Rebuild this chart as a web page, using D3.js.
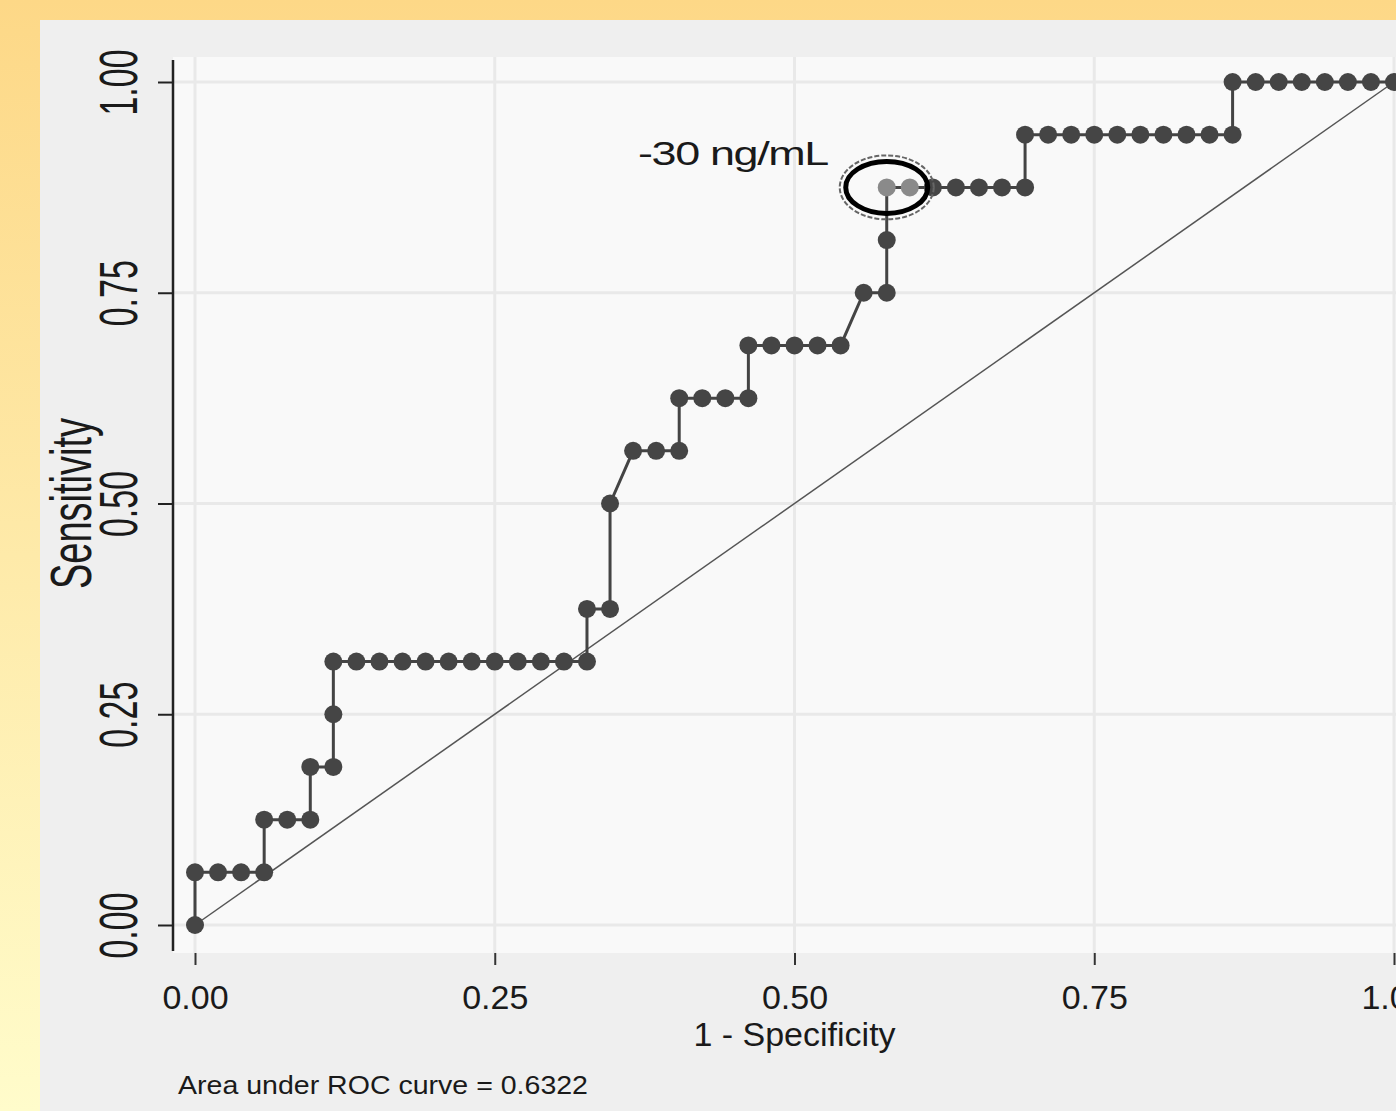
<html>
  <script src="https://d3js.org/d3.v7.min.js"></script>
  <head>
    <title>ROC curve</title>
    <style>
      body { margin: 0; background: #ffffff; }
      svg { display: block; }
      text { font-family: "Liberation Sans", Arial, sans-serif; fill: #1a1a1a; }
    </style>
  </head>
  <body>
    <svg></svg>
    <script>
      // ROC points: false positives out of 52 negatives, true positives out of 16 positives
      const nNeg = 52;
      const nPos = 16;
      const falsePos = [0,0,1,2,3,3,4,5,5,6,6,6,7,8,9,10,11,12,13,14,15,16,17,17,18,18,19,20,21,21,22,23,24,24,
                        25,26,27,28,29,30,30,30,31,32,33,34,35,36,36,37,38,39,40,41,42,43,44,45,45,46,47,48,49,50,51,52];
      const truePos  = [0,1,1,1,1,2,2,2,3,3,4,5,5,5,5,5,5,5,5,5,5,5,5,6,6,8,9,9,9,10,10,10,10,11,
                        11,11,11,11,12,12,13,14,14,14,14,14,14,14,15,15,15,15,15,15,15,15,15,15,16,16,16,16,16,16,16,16];
      // the chosen cut-off (30 ng/mL) shown in lighter gray and circled
      const cutFalsePos = [30, 31];
      const cutTruePos = 14;
      const cutLabel = "-30 ng/mL";

      const xTicks = [0, 0.25, 0.5, 0.75, 1];
      const yTicks = [0, 0.25, 0.5, 0.75, 1];
      const xTitle = "1 - Specificity";
      const yTitle = "Sensitivity";
      const aucNote = "Area under ROC curve = 0.6322";

      const W = 1396, H = 1111;
      const svg = d3.select("svg").attr("width", W).attr("height", H);

      const grad = svg.append("defs").append("linearGradient")
        .attr("id", "bg").attr("x1", 0).attr("y1", 0).attr("x2", 0).attr("y2", 1);
      grad.append("stop").attr("offset", "0%").attr("stop-color", "#fdd887");
      grad.append("stop").attr("offset", "100%").attr("stop-color", "#fffccb");

      svg.append("rect").attr("width", W).attr("height", H).attr("fill", "url(#bg)");
      svg.append("rect").attr("x", 40).attr("y", 20).attr("width", W - 40).attr("height", H - 20).attr("fill", "#efefef");
      svg.append("rect").attr("x", 173).attr("y", 57).attr("width", W - 173).attr("height", 896).attr("fill", "#f9f9f9");

      const x = d3.scaleLinear().domain([0, 1]).range([195, 1394]);
      const y = d3.scaleLinear().domain([0, 1]).range([925, 82]);

      // grid
      svg.append("g").selectAll("line").data(xTicks).join("line")
        .attr("x1", d => x(d)).attr("x2", d => x(d)).attr("y1", 57).attr("y2", 953)
        .attr("stroke", "#e9e9e9").attr("stroke-width", 3);
      svg.append("g").selectAll("line").data(yTicks).join("line")
        .attr("x1", 173).attr("x2", W).attr("y1", d => y(d)).attr("y2", d => y(d))
        .attr("stroke", "#e9e9e9").attr("stroke-width", 3);

      // y axis
      const gy = svg.append("g").attr("transform", "translate(173,0)")
        .call(d3.axisLeft(y).tickValues(yTicks).tickSize(15).tickFormat(d3.format(".2f")));
      gy.select(".domain").attr("d", "M0,60V951").attr("stroke", "#222").attr("stroke-width", 2.5);
      gy.selectAll(".tick line").attr("stroke", "#222").attr("stroke-width", 2);
      gy.selectAll(".tick text")
        .attr("x", 0).attr("dy", 0)
        .attr("text-anchor", "middle")
        .attr("transform", "translate(-36,0) rotate(-90) scale(1,1.6)")
        .style("font-size", "34px").style("font-family", "Liberation Sans, Arial, sans-serif").attr("fill", "#1a1a1a");

      // x axis
      const gx = svg.append("g").attr("transform", "translate(0,953)")
        .call(d3.axisBottom(x).tickValues(xTicks).tickSize(12).tickFormat(d3.format(".2f")));
      gx.select(".domain").remove();
      gx.selectAll(".tick line").attr("stroke", "#333").attr("stroke-width", 2);
      gx.selectAll(".tick text")
        .attr("y", 56).attr("dy", 0)
        .style("font-size", "34px").style("font-family", "Liberation Sans, Arial, sans-serif").attr("fill", "#1a1a1a");

      // titles
      svg.append("text").text(xTitle)
        .attr("x", x(0.5)).attr("y", 1046).attr("text-anchor", "middle")
        .style("font-size", "34px");
      svg.append("text").text(yTitle)
        .attr("text-anchor", "middle")
        .attr("transform", "translate(91," + y(0.5) + ") rotate(-90) scale(1,1.5)")
        .style("font-size", "38px");
      svg.append("text").text(aucNote)
        .attr("x", 178).attr("y", 1094)
        .attr("textLength", 410).attr("lengthAdjust", "spacingAndGlyphs")
        .style("font-size", "26px");

      // reference diagonal
      svg.append("path")
        .datum([[0, 0], [1, 1]])
        .attr("d", d3.line().x(d => x(d[0])).y(d => y(d[1])))
        .attr("fill", "none").attr("stroke", "#555").attr("stroke-width", 1.5);

      // ROC curve
      const pts = falsePos.map((f, i) => ({ fpr: f / nNeg, tpr: truePos[i] / nPos, cut: cutFalsePos.includes(f) && truePos[i] === cutTruePos }));
      svg.append("path")
        .datum(pts)
        .attr("d", d3.line().x(d => x(d.fpr)).y(d => y(d.tpr)))
        .attr("fill", "none").attr("stroke", "#444").attr("stroke-width", 3);
      svg.append("g").selectAll("circle").data(pts).join("circle")
        .attr("cx", d => x(d.fpr)).attr("cy", d => y(d.tpr)).attr("r", 9)
        .attr("fill", d => d.cut ? "#8a8a8a" : "#454545");

      // cut-off annotation
      const cx = x(cutFalsePos[0] / nNeg), cy = y(cutTruePos / nPos);
      svg.append("ellipse").attr("cx", cx).attr("cy", cy).attr("rx", 47).attr("ry", 32)
        .attr("fill", "none").attr("stroke", "#666").attr("stroke-width", 2)
        .attr("stroke-dasharray", "5,2");
      svg.append("ellipse").attr("cx", cx).attr("cy", cy).attr("rx", 41).attr("ry", 26)
        .attr("fill", "none").attr("stroke", "#000").attr("stroke-width", 5);
      svg.append("text").text(cutLabel)
        .attr("x", 638).attr("y", 165)
        .attr("textLength", 190).attr("lengthAdjust", "spacingAndGlyphs")
        .attr("letter-spacing", "-1")
        .style("font-size", "33px").attr("fill", "#111");
    </script>
  </body>
</html>
